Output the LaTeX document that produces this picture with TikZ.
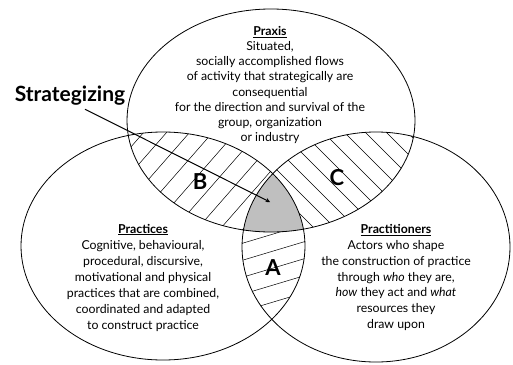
\documentclass[tikz,border=0pt]{standalone}
\usepackage{fontspec}
\setmainfont{Lato}
\usetikzlibrary{arrows,positioning}

% the three circles of the diagram
\newcommand{\praxisE}{(271,120.5) ellipse [x radius=144pt, y radius=111.5pt]}
\newcommand{\practicesE}{(163,246) ellipse [x radius=142pt, y radius=114pt]}
\newcommand{\practitionersE}{(376,247) ellipse [x radius=134pt, y radius=115pt]}

\begin{document}
\begin{tikzpicture}[
    x=1pt, y=-1pt,
    circ/.style={draw=black, line width=0.8pt},
    hatch/.style={draw=black, line width=0.5pt},
    bodytext/.style={align=center, font=\fontsize{12.3}{15.2}\selectfont, inner sep=0pt},
    letter/.style={font=\fontsize{22}{24}\selectfont\bfseries},
    arrow/.style={->, line width=1pt, >=stealth}
]
\useasboundingbox (0,0) rectangle (513,364);

% hatching of B, C and A
\begin{scope}
    \clip \praxisE;
    \clip \practicesE;
    \foreach \i in {0,...,22} \draw[hatch] (\i*23-220,364) -- ++(420,-480);
\end{scope}
\begin{scope}
    \clip \praxisE;
    \clip \practitionersE;
    \foreach \i in {0,...,18} \draw[hatch] (\i*21-40,0) -- ++(400,400);
\end{scope}
\begin{scope}
    \clip \practicesE;
    \clip \practitionersE;
    \foreach \i in {0,...,8} \draw[hatch] (200,222+\i*17) -- ++(150,-45);
\end{scope}

% strategizing core
\begin{scope}
    \clip \praxisE;
    \clip \practicesE;
    \fill[black!25] \practitionersE;
\end{scope}

\draw[circ] \praxisE;
\draw[circ] \practicesE;
\draw[circ] \practitionersE;

\node[bodytext] (praxis) at (270,85) {\underline{\textbf{Praxis}}\\
    Situated,\\
    socially accomplished flows\\
    of activity that strategically are\\
    consequential\\
    for the direction and survival of the\\
    group, organization\\
    or industry};
\node[bodytext, font=\fontsize{12.3}{16}\selectfont] (practices) at (143,277.5) {\underline{\textbf{Practices}}\\
    Cognitive, behavioural,\\
    procedural, discursive,\\
    motivational and physical\\
    practices that are combined,\\
    coordinated and adapted\\
    to construct practice};
\node[bodytext, font=\fontsize{12.3}{15.8}\selectfont] (practitioners) at (396,277.5) {\underline{\textbf{Practitioners}}\\
    Actors who shape\\
    the construction of practice\\
    through \textit{who} they are,\\
    \textit{how} they act and \textit{what}\\
    resources they\\
    draw upon};

\node[letter] (b) at (200,182) {B};
\node[letter] (c) at (337,178) {C};
\node[letter] (a) at (273,268) {A};

\node[font=\fontsize{21}{23}\selectfont\bfseries] (strat) at (70,96) {Strategizing};
\coordinate (core) at (270,202);
\draw[arrow] ([xshift=15pt]strat.south) -- (core);

\end{tikzpicture}
\end{document}
